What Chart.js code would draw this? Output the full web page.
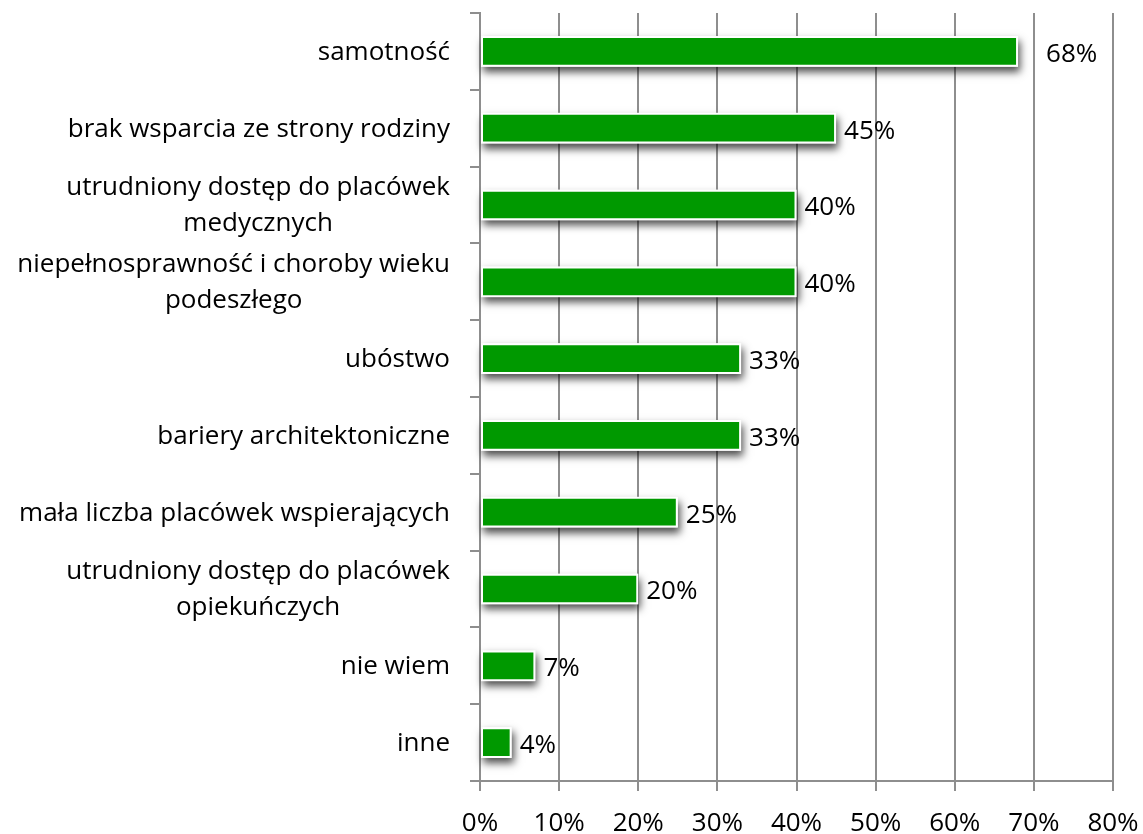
<!DOCTYPE html>
<html>
<head>
<meta charset="utf-8">
<script src="https://cdn.jsdelivr.net/npm/chart.js@4"></script>
<style>
  body { margin: 0; background: #fff; }
</style>
</head>
<body>
<canvas id="chart" width="1143" height="834"></canvas>
<script>
const categories = [
  ["samotność"],
  ["brak wsparcia ze strony rodziny"],
  ["utrudniony dostęp do placówek", "medycznych"],
  ["niepełnosprawność i choroby wieku", "podeszłego"],
  ["ubóstwo"],
  ["bariery architektoniczne"],
  ["mała liczba placówek wspierających"],
  ["utrudniony dostęp do placówek", "opiekuńczych"],
  ["nie wiem"],
  ["inne"]
];
const values = [68, 45, 40, 40, 33, 33, 25, 20, 7, 4];
const xTicks = [0, 10, 20, 30, 40, 50, 60, 70, 80];

const FONT = '"Open Sans", "Noto Sans", sans-serif';
const GRID = '#8e8e8e';

// cień pod słupkami (bar element przycina własny cień, więc rysujemy go osobno)
const shadowPlugin = {
  id: 'shadow',
  beforeDatasetsDraw(chart) {
    const ctx = chart.ctx;
    ctx.save();
    ctx.shadowColor = 'rgba(0,0,0,0.7)';
    ctx.shadowBlur = 8;
    ctx.shadowOffsetX = 2;
    ctx.shadowOffsetY = 5;
    ctx.fillStyle = '#fff';
    chart.getDatasetMeta(0).data.forEach(bar => {
      const h = bar.height;
      ctx.fillRect(bar.base, bar.y - h / 2, bar.x - bar.base, h);
    });
    ctx.restore();
  }
};

// etykiety kategorii (wyśrodkowane wiersze) i wartości przy słupkach
const labelsPlugin = {
  id: 'labels',
  afterDraw(chart) {
    const ctx = chart.ctx;
    const y = chart.scales.y;
    ctx.save();
    ctx.font = '26px ' + FONT;
    ctx.fillStyle = '#000';
    ctx.textBaseline = 'middle';
    ctx.textAlign = 'center';
    const right = chart.chartArea.left - 30;
    categories.forEach((lines, i) => {
      const cy = y.getPixelForValue(i);
      const w = Math.max(...lines.map(l => ctx.measureText(l).width));
      const cx = right - w / 2;
      const lh = 36;
      lines.forEach((l, k) => {
        ctx.fillText(l, cx, cy + (k - (lines.length - 1) / 2) * lh + 1);
      });
    });
    ctx.textAlign = 'left';
    const meta = chart.getDatasetMeta(0);
    meta.data.forEach((bar, i) => {
      const off = i === 0 ? 28 : 8;
      ctx.fillText(values[i] + '%', bar.x + off, bar.y + 3);
    });
    ctx.restore();
  }
};

new Chart(document.getElementById('chart'), {
  type: 'bar',
  data: {
    labels: categories,
    datasets: [{
      data: values,
      backgroundColor: '#009900',
      borderColor: '#ffffff',
      borderWidth: 2,
      borderSkipped: false,
      categoryPercentage: 1,
      barPercentage: 0.4
    }]
  },
  options: {
    indexAxis: 'y',
    responsive: false,
    animation: false,
    layout: { padding: { top: 13, right: 30, left: 0, bottom: 0 } },
    plugins: { legend: { display: false }, tooltip: { enabled: false } },
    scales: {
      x: {
        min: 0,
        max: 80,
        afterBuildTicks(scale) {
          scale.ticks = xTicks.map(v => ({ value: v }));
        },
        afterFit(scale) {
          scale.height = 53;
          scale.paddingLeft = 0;
          scale.paddingRight = 0;
        },
        grid: { color: GRID, lineWidth: 2, tickLength: 10, drawTicks: true },
        border: { color: GRID, width: 2 },
        ticks: {
          color: '#000',
          padding: 17,
          font: { family: FONT, size: 26 },
          callback: v => v + '%'
        }
      },
      y: {
        afterFit(scale) { scale.width = 480; },
        grid: { offset: true, drawOnChartArea: false, color: GRID, lineWidth: 2, tickLength: 10 },
        border: { color: GRID, width: 2 },
        ticks: { display: false }
      }
    }
  },
  plugins: [shadowPlugin, labelsPlugin]
});
</script>
</body>
</html>
